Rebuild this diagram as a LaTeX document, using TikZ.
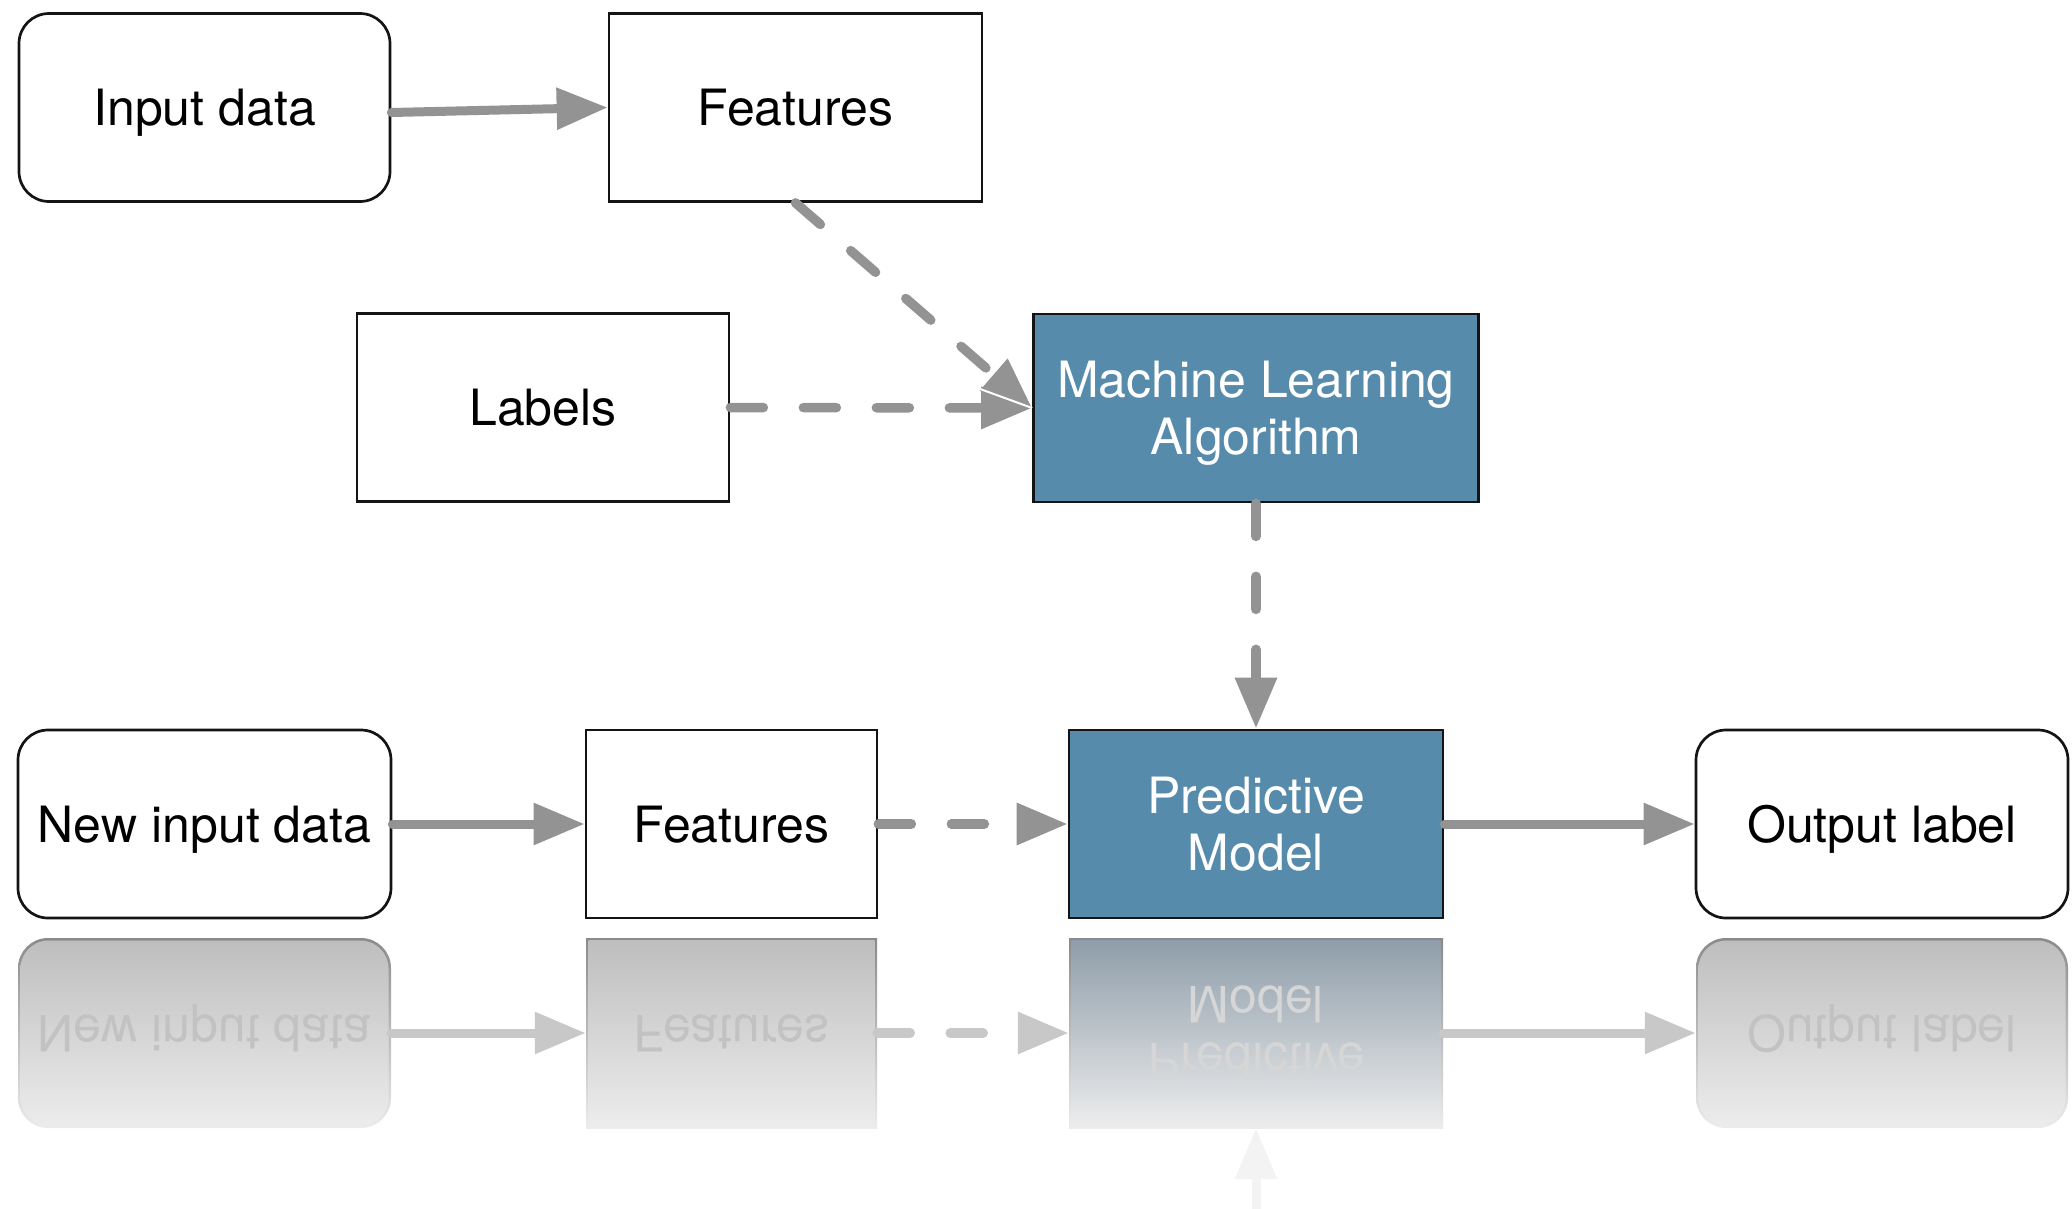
\documentclass[tikz,border=0pt]{standalone}
\usepackage{fontspec}
\setmainfont{TeX Gyre Heros}
\usetikzlibrary{arrows.meta}
\definecolor{arrowgray}{RGB}{147,147,147}
\definecolor{mlblue}{RGB}{86,139,171}
\definecolor{boxline}{RGB}{20,20,20}
\definecolor{rflEdge}{RGB}{138,138,138}
\definecolor{rflTop}{RGB}{190,190,190}
\definecolor{rflBot}{RGB}{236,236,236}
\definecolor{rflBlueTop}{RGB}{143,158,170}
\definecolor{rflArrow}{RGB}{200,200,200}
\definecolor{rflText}{RGB}{194,194,194}
\definecolor{rflTextW}{RGB}{214,214,214}
\definecolor{rflFaint}{RGB}{243,243,243}
\begin{document}
\begin{tikzpicture}[x=1pt,y=-1pt,
  lbl/.style={font=\fontsize{50pt}{57pt}\selectfont, text height=36pt, text depth=0pt, inner sep=0pt},
  lbltwo/.style={font=\fontsize{50pt}{57pt}\selectfont, align=center, text height=93pt, text depth=0pt, inner sep=0pt},
  plainbox/.style={draw=boxline, line width=2.7pt, fill=white, minimum width=#1, minimum height=188pt, inner sep=0pt},
  roundbox/.style={plainbox=#1, rounded corners=30pt},
  algobox/.style={draw=boxline, line width=2.7pt, fill=mlblue, text=white, minimum width=#1, minimum height=188pt, inner sep=0pt},
  flow/.style={draw=arrowgray, line width=9pt, line cap=round, -{Triangle[length=51pt,width=40pt]}},
  dflow/.style={flow, line width=9.5pt, dash pattern=on 33pt off 40pt},
  rimbox/.style={minimum width=#1, minimum height=190pt, inner sep=0pt, top color=rflEdge, bottom color=rflBot},
  shadebox/.style={minimum width=#1-5pt, minimum height=185pt, inner sep=0pt, top color=rflTop, bottom color=rflBot},
  shadeblue/.style={minimum width=#1-5pt, minimum height=185pt, inner sep=0pt, top color=rflBlueTop, bottom color=rflBot},
]
\useasboundingbox (0,0) rectangle (2072,1208);

% training row
\node[roundbox=371pt, lbl] (in) at (204.5,107.5) {Input data};
\node[plainbox=373pt, lbl] (feat1) at (795.5,107.5) {Features};
\node[plainbox=372pt, lbl] (lab) at (543,407.5) {Labels};
\node[algobox=445pt, lbltwo] (ml) at (1256,408) {Machine Learning\\Algorithm};

% prediction row
\node[roundbox=373pt, lbl] (newin) at (204.5,824) {New input data};
\node[plainbox=291pt, lbl] (feat2) at (731.5,824) {Features};
\node[algobox=374pt, lbltwo] (pm) at (1256,824) {Predictive\\Model};
\node[roundbox=372pt, lbl] (out) at (1882,824) {Output label};

% connectors
\draw[flow] ([yshift=-5pt]in.east) -- (feat1.west);
\draw[dflow] (lab.east) -- (ml.west);
\draw[dflow] (feat1.south) -- (ml.west);
\draw[white, line width=2pt] (ml.west) -- ++(-52,-19);
\draw[dflow] (ml.south) -- (pm.north);
\draw[flow] (newin.east) -- (feat2.west);
\draw[dflow] (feat2.east) -- (pm.west);
\draw[flow] (pm.east) -- (out.west);

% mirrored copy of the prediction row
\node[rimbox=373pt, rounded corners=30pt] (newinR) at (204.5,1033) {};
\node[shadebox=373pt, rounded corners=28pt] at (204.5,1033) {};
\node[rimbox=291pt] (feat2R) at (731.5,1033) {};
\node[shadebox=291pt] at (731.5,1033) {};
\node[rimbox=374pt] (pmR) at (1256,1033) {};
\node[shadeblue=374pt] at (1256,1033) {};
\node[rimbox=372pt, rounded corners=30pt] (outR) at (1882,1033) {};
\node[shadebox=372pt, rounded corners=28pt] at (1882,1033) {};

\node[lbl, yscale=-1, text=rflText] (newinRt) at (204.5,1033) {New input data};
\node[lbl, yscale=-1, text=rflText] (feat2Rt) at (731.5,1033) {Features};
\node[lbltwo, yscale=-1, text=rflTextW] (pmRt) at (1256,1033) {Predictive\\Model};
\node[lbl, yscale=-1, text=rflText] (outRt) at (1882,1033) {Output label};

\draw[flow, draw=rflArrow] (newinR.east) -- (feat2R.west);
\draw[dflow, draw=rflArrow] (feat2R.east) -- (pmR.west);
\draw[flow, draw=rflArrow] (pmR.east) -- (outR.west);
\coordinate (tail) at (1256,1215);
\draw[flow, draw=rflFaint] (tail) -- (pmR.south);
\end{tikzpicture}
\end{document}
